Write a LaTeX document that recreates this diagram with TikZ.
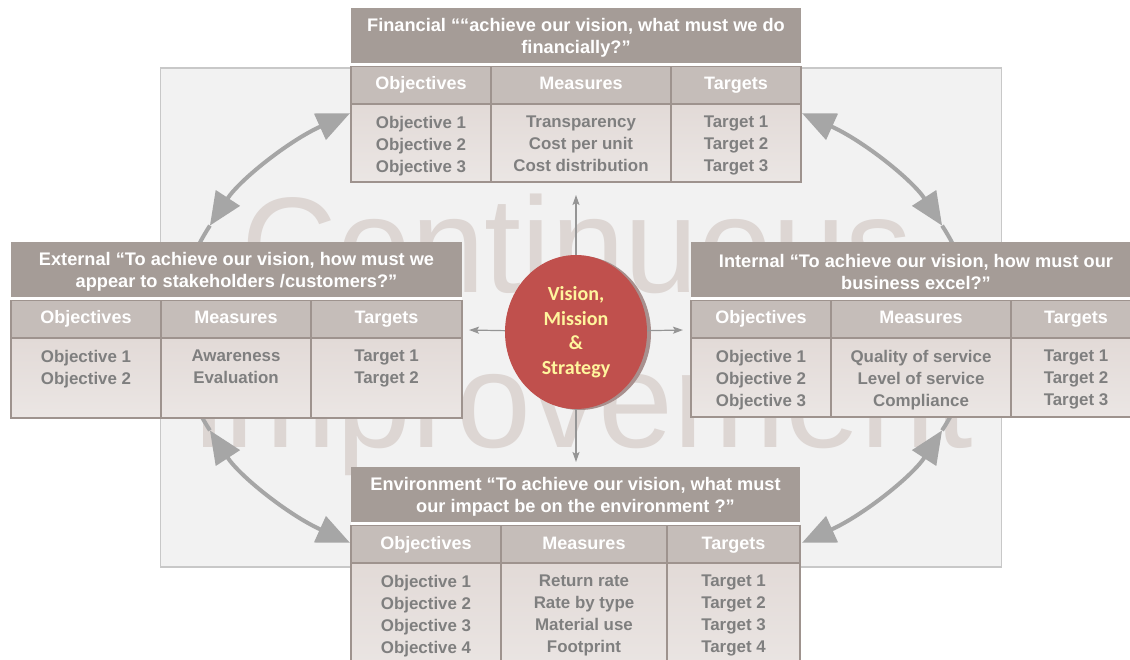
\documentclass[tikz,border=0pt]{standalone}
\usepackage{fontspec}
\setmainfont{Liberation Sans}
\newfontfamily\carlitofont{Carlito}
\usepackage{graphicx}
\usetikzlibrary{arrows.meta,shapes.geometric}

\definecolor{bgfill}{HTML}{F2F2F2}
\definecolor{bgline}{HTML}{C8C8C8}
\definecolor{wmark}{HTML}{DDD6D3}
\definecolor{arcgray}{HTML}{A6A6A6}
\definecolor{crossgray}{HTML}{959595}
\definecolor{titlefill}{HTML}{A59C97}
\definecolor{colfill}{HTML}{C5BDB9}
\definecolor{bodytop}{HTML}{E2DAD7}
\definecolor{bodybot}{HTML}{EBE6E4}
\definecolor{boxline}{HTML}{9E938E}
\definecolor{bodytext}{HTML}{7F7F7F}
\definecolor{vmsred}{HTML}{C0504D}
\definecolor{vmsshadow}{HTML}{A8908E}
\definecolor{vmstext}{HTML}{FFF59D}

\tikzset{
  boxtitle/.style={text=white, font=\bfseries\fontsize{18.2}{22}\selectfont, align=center, inner sep=0pt},
  colhead/.style={text=white, font=\bfseries\fontsize{18}{22}\selectfont, inner sep=0pt, anchor=base},
  bodytxt/.style={text=bodytext, font=\bfseries\fontsize{16.9}{22}\selectfont, align=center, inner sep=0pt, anchor=north},
  gridline/.style={draw=boxline, line width=1.8pt},
  cyc/.style={draw=arcgray, line width=4pt, {Triangle[length=33pt,width=28pt]}-{Triangle[length=33pt,width=28pt]}},
  cycext/.style={draw=arcgray, line width=4pt},
  cross/.style={draw=crossgray, line width=1.2pt, -{Stealth[length=10pt,width=7pt,inset=2pt]}},
  vmsnode/.style={ellipse, fill=vmsred, minimum width=142pt, minimum height=154pt, inner sep=0pt,
    text=vmstext, font=\carlitofont\bfseries\fontsize{20}{24.5}\selectfont, align=center},
  wmtext/.style={text=wmark, font=\fontsize{136}{150}\selectfont, inner sep=0pt, anchor=base}
}

\newcommand{\bscbox}[8]{%
  \def\bx{#2}\def\by{#3}\def\bw{#4}\def\bda{#5}\def\bdb{#6}%
  \begin{scope}[shift={(#2,#3)}]
    \fill[titlefill] (0,0) rectangle (#4,55);
    \fill[white] (0,55) rectangle (#4,58.5);
    \fill[colfill] (0,58.5) rectangle (#4,96);
    \shade[top color=bodytop, bottom color=bodybot] (0,96) rectangle (#4,#7);
    \draw[gridline] (0,58.5) rectangle (#4,#7);
    \draw[gridline] (0,96) -- (#4,96);
    \draw[gridline] (#5,58.5) -- (#5,#7);
    \draw[gridline] (#6,58.5) -- (#6,#7);
    \node[boxtitle] (#1-title) at ({#4/2},29.5) {#8};
    \node[colhead] (#1-h1) at ({#5/2},82) {Objectives};
    \node[colhead] (#1-h2) at ({(#5+#6)/2},82) {Measures};
    \node[colhead] (#1-h3) at ({(#6+#4)/2},82) {Targets};
  \end{scope}}

\newcommand{\bscbody}[4]{%
  \begin{scope}[shift={(\bx,\by)}]
    \node[bodytxt] (#1-b1) at ({\bda/2},108) {#2};
    \node[bodytxt] (#1-b2) at ({(\bda+\bdb)/2},108) {#3};
    \node[bodytxt] (#1-b3) at ({(\bdb+\bw)/2},108) {#4};
  \end{scope}}

\begin{document}
\begin{tikzpicture}[x=1pt, y=-1pt]
  \useasboundingbox (0,0) rectangle (1130,660);

  % background panel
  \draw[draw=bgline, fill=bgfill, line width=1.5pt] (160.5,68) rectangle (1001.5,567);

  % watermark
  \node[wmtext] (wm1) at (577,293) {\scalebox{0.975}[1]{Continuous}};
  \node[wmtext] (wm2) at (584,447) {\scalebox{0.99}[1]{improvement}};

  % cycle arcs (ellipse centre 576,328; radii 398 x 261)
  \coordinate (a1s) at ({576+398*cos(235.4)},{328+261*sin(235.4)});
  \coordinate (a1e) at ({576+398*cos(203.1)},{328+261*sin(203.1)});
  \coordinate (a2s) at ({576+398*cos(-55.4)},{328+261*sin(-55.4)});
  \coordinate (a2e) at ({576+398*cos(-23.1)},{328+261*sin(-23.1)});
  \coordinate (a3s) at ({576+398*cos(124.6)},{328+261*sin(124.6)});
  \coordinate (a3e) at ({576+398*cos(156.9)},{328+261*sin(156.9)});
  \coordinate (a4s) at ({576+398*cos(55.4)},{328+261*sin(55.4)});
  \coordinate (a4e) at ({576+398*cos(23.1)},{328+261*sin(23.1)});

  \draw[cycext] (a1e) arc[start angle=203.1, end angle=198.5, x radius=398, y radius=261];
  \draw[cycext] (a2e) arc[start angle=-23.1, end angle=-18.5, x radius=398, y radius=261];
  \draw[cycext] (a3e) arc[start angle=156.9, end angle=161.5, x radius=398, y radius=261];
  \draw[cycext] (a4e) arc[start angle=23.1, end angle=18.5, x radius=398, y radius=261];

  \draw[cyc] (a1s) arc[start angle=235.4, end angle=203.1, x radius=398, y radius=261];
  \draw[cyc] (a2s) arc[start angle=-55.4, end angle=-23.1, x radius=398, y radius=261];
  \draw[cyc] (a3s) arc[start angle=124.6, end angle=156.9, x radius=398, y radius=261];
  \draw[cyc] (a4s) arc[start angle=55.4, end angle=23.1, x radius=398, y radius=261];

  % central ellipse
  \fill[vmsshadow] (580,333) ellipse [x radius=71, y radius=77];
  \node[vmsnode] (vms) at (576,332) {Vision,\\Mission\\\&\\Strategy};
  \coordinate (vup) at (576,195);
  \coordinate (vdn) at (576,462);
  \coordinate (vlt) at (469,330);
  \coordinate (vrt) at (683,330);
  \draw[cross] (vms) -- (vup);
  \draw[cross] (vms) -- (vdn);
  \draw[cross] (vms) -- (vlt);
  \draw[cross] (vms) -- (vrt);

  % Financial
  \bscbox{fin}{351}{8}{450}{140}{320}{174}{Financial ““achieve our vision, what must we do\\financially?”}
  \bscbody{fin}{Objective 1\\Objective 2\\Objective 3}{Transparency\\Cost per unit\\Cost distribution}{Target 1\\Target 2\\Target 3}

  % External
  \bscbox{ext}{11}{242}{451}{150}{300}{176}{External “To achieve our vision, how must we\\appear to stakeholders /customers?”}
  \bscbody{ext}{Objective 1\\Objective 2}{Awareness\\Evaluation}{Target 1\\Target 2}

  % Internal
  \bscbox{int}{691}{242}{450}{140}{320}{175}{Internal “To achieve our vision, how must our\\business excel?”}
  \bscbody{int}{Objective 1\\Objective 2\\Objective 3}{Quality of service\\Level of service\\Compliance}{Target 1\\Target 2\\Target 3}

  % Environment
  \bscbox{env}{351}{467}{449}{150}{316}{210}{Environment “To achieve our vision, what must\\our impact be on the environment ?”}
  \bscbody{env}{Objective 1\\Objective 2\\Objective 3\\Objective 4}{Return rate\\Rate by type\\Material use\\Footprint}{Target 1\\Target 2\\Target 3\\Target 4}
\end{tikzpicture}
\end{document}
